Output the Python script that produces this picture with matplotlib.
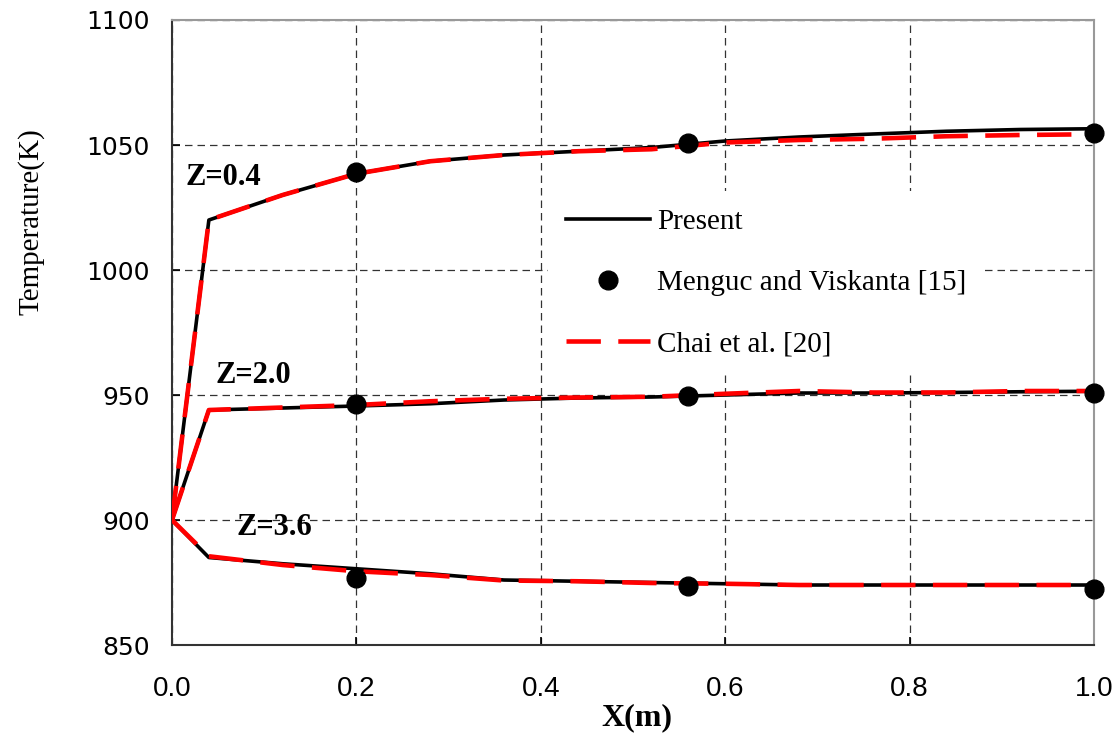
import numpy as np
import matplotlib.pyplot as plt

# grid of x positions (m) shared by the two computed solutions
x_line = [0.0, 0.04, 0.12, 0.2, 0.28, 0.36, 0.44, 0.52, 0.6, 0.68, 0.76, 0.84, 0.92, 1.0]

# present method, temperature (K)
present_z04 = [900, 1020, 1030, 1038.5, 1043.5, 1046, 1047.5, 1049, 1051.6, 1053.2, 1054.4, 1055.5, 1056.2, 1056.5]
present_z20 = [900, 944, 944.8, 945.6, 946.5, 948, 948.8, 949.2, 950, 950.8, 950.8, 951, 951.3, 951.5]
present_z36 = [900, 885, 882.5, 880.5, 878.5, 876, 875.5, 875, 874.5, 874, 874, 874, 874, 874]

# Chai et al. [20]
chai_z04 = [900, 1020, 1030, 1038.5, 1043.5, 1046, 1047.5, 1048.3, 1051, 1052, 1052.5, 1053.5, 1054, 1054.3]
chai_z20 = [900, 944, 945, 946, 947.5, 948.5, 949, 949.3, 950.5, 951.6, 951, 951, 951.6, 951.6]
chai_z36 = [900, 885.5, 882, 879.5, 878, 875.8, 875.5, 874.8, 874.5, 874, 874, 874, 874, 874]

# Menguc and Viskanta [15]
x_mv = [0.2, 0.56, 1.0]
mv_z04 = [1039.2, 1050.8, 1054.7]
mv_z20 = [946.4, 949.6, 950.8]
mv_z36 = [876.8, 873.8, 872.5]

z_labels = ['Z=0.4', 'Z=2.0', 'Z=3.6']
z_label_pos = [(0.015, 1037), (0.047, 958), (0.07, 897)]

fig = plt.figure(figsize=(11.19, 7.38), dpi=100)
ax = fig.add_axes([0.1537, 0.126, 0.8240, 0.8469])

for i, (p, c, m) in enumerate([(present_z04, chai_z04, mv_z04),
                               (present_z20, chai_z20, mv_z20),
                               (present_z36, chai_z36, mv_z36)]):
    ax.plot(x_line, p, color='black', lw=2.6, zorder=3,
            label='Present' if i == 0 else None)
    ax.plot(x_mv, m, 'o', color='black', ms=13.5, zorder=5, clip_on=False,
            label='Menguc and Viskanta [15]' if i == 0 else None)
    ax.plot(x_line, c, color='#ff0000', lw=3.3, dashes=(7.5, 3.8), zorder=4,
            label='Chai et al. [20]' if i == 0 else None)

for lab, (xp, yp) in zip(z_labels, z_label_pos):
    ax.text(xp, yp, lab, fontsize=22, fontweight='bold', family='Liberation Serif',
            va='center', ha='left', zorder=6)

ax.set_xlim(0, 1.0)
ax.set_ylim(850, 1100)
ax.set_xticks(np.arange(0, 1.01, 0.2))
ax.set_yticks(np.arange(850, 1101, 50))
ax.set_xticklabels(['%.1f' % v for v in np.arange(0, 1.01, 0.2)],
                   family='Liberation Sans', fontsize=20)
ax.set_yticklabels([str(v) for v in range(850, 1101, 50)], family='DejaVu Sans', fontsize=18)
ax.tick_params(direction='in', length=6, width=1.2)
ax.tick_params(axis='x', pad=22)
ax.tick_params(axis='y', pad=16)

ax.grid(True, color='#333333', lw=0.9, ls=(0, (6, 4)))
ax.set_axisbelow(True)
for s in ['left', 'bottom']:
    ax.spines[s].set_color('#333333')
    ax.spines[s].set_linewidth(1.5)
for s in ['top', 'right']:
    ax.spines[s].set_color('#999999')
    ax.spines[s].set_linewidth(1.5)

fig.text(0.569, 0.027, 'X(m)', family='Liberation Serif', fontweight='bold',
         fontsize=23, ha='center', va='center')
fig.text(0.028, 0.70, 'Temperature(K)', rotation=90, family='Liberation Serif',
         fontsize=21, ha='center', va='center')

leg = ax.legend(loc='upper left', bbox_to_anchor=(0.392, 0.75), frameon=True,
                fancybox=False, edgecolor='none', framealpha=1,
                prop={'family': 'Liberation Serif', 'size': 21},
                handlelength=2.9, handletextpad=0.25, labelspacing=1.2,
                borderpad=0.6, markerscale=1.0)
leg.set_zorder(2)

fig.savefig('out.png', dpi=100)
